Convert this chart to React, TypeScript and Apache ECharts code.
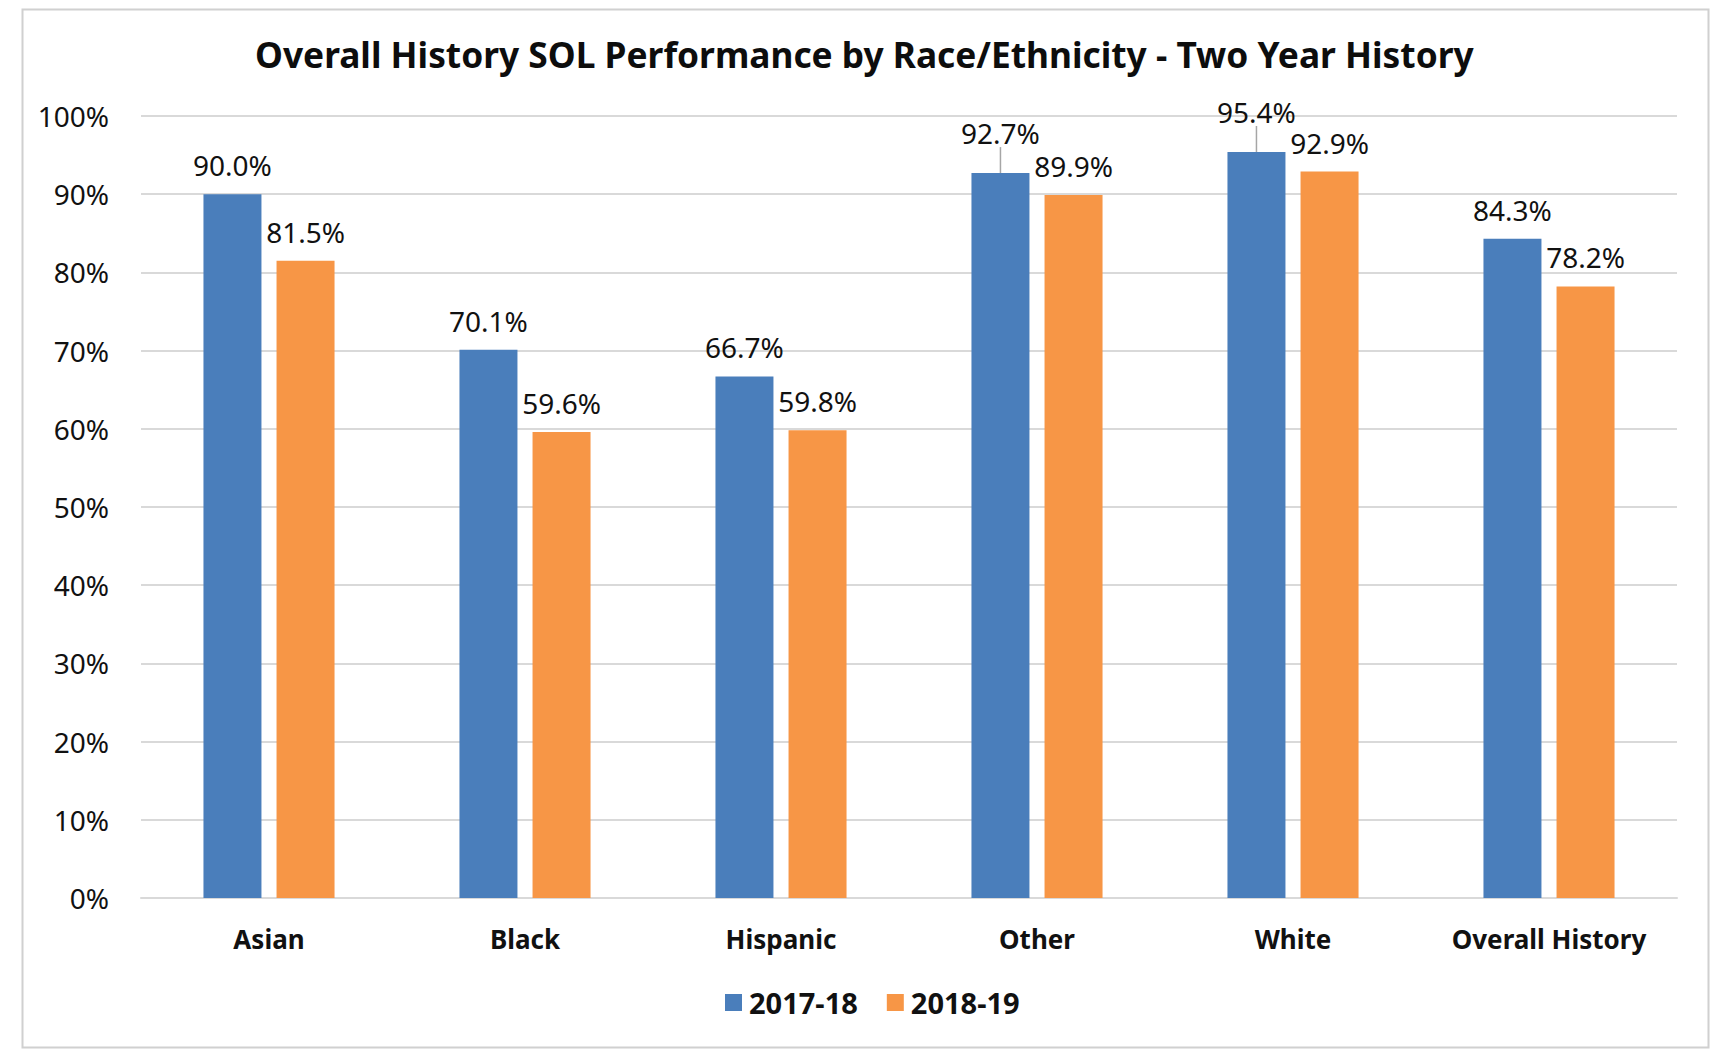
import React, { useEffect, useRef } from "react";
import * as echarts from "echarts";

const categories = ["Asian", "Black", "Hispanic", "Other", "White", "Overall History"];
const series2017 = [90.0, 70.1, 66.7, 92.7, 95.4, 84.3];
const series2018 = [81.5, 59.6, 59.8, 89.9, 92.9, 78.2];
const seriesNames = ["2017-18", "2018-19"];
const yTicks = { min: 0, max: 100, interval: 10 };
// labels nudged upward with a leader line (index into categories, 2017-18 series)
const liftedLabels = [3, 4];

const FONT = "Noto Sans";

export default function App() {
  const ref = useRef<HTMLDivElement>(null);

  useEffect(() => {
    document.body.style.margin = "0";
    const chart = echarts.init(ref.current!, null, { renderer: "svg" });
    const labelStyle = {
      show: true,
      position: "top" as const,
      distance: 15,
      fontFamily: FONT,
      fontSize: 28,
      color: "#111111",
      formatter: (p: any) => `${Number(p.value).toFixed(1)}%`,
    };
    const data2017 = series2017.map((v, i) =>
      liftedLabels.includes(i)
        ? { value: v, labelLine: { show: true, lineStyle: { color: "#a6a6a6", width: 1.5 } } }
        : { value: v, labelLine: { show: false } }
    );
    chart.setOption({
      animation: false,
      backgroundColor: "#ffffff",
      textStyle: { fontFamily: FONT },
      title: {
        text: "Overall History SOL Performance by Race/Ethnicity - Two Year History",
        left: 250,
        top: 31,
        textStyle: { fontFamily: FONT, fontSize: 35.3, fontWeight: "bold", color: "#0d0d0d" },
      },
      graphic: [
        {
          type: "rect",
          left: 20,
          top: 7,
          shape: { width: 1686, height: 1038 },
          style: { fill: "none", stroke: "#d0d0d0", lineWidth: 2 },
          silent: true,
        },
      ],
      legend: {
        bottom: 29,
        left: 720,
        itemWidth: 17,
        itemHeight: 17,
        itemGap: 29,
        icon: "rect",
        textStyle: { fontFamily: FONT, fontSize: 29, fontWeight: "bold", color: "#111111", padding: [0, 0, 0, 2] },
        data: seriesNames,
      },
      grid: { left: 141, right: 39, top: 116, bottom: 153, containLabel: false },
      xAxis: {
        type: "category",
        data: categories,
        axisLine: { show: true, lineStyle: { color: "#d9d9d9", width: 2 } },
        axisTick: { show: false },
        axisLabel: {
          interval: 0,
          fontFamily: FONT,
          fontSize: 26,
          fontWeight: "bold",
          color: "#111111",
          margin: 28,
          hideOverlap: false,
        },
      },
      yAxis: {
        type: "value",
        min: yTicks.min,
        max: yTicks.max,
        interval: yTicks.interval,
        axisLine: { show: false },
        axisTick: { show: false },
        splitLine: { lineStyle: { color: "#d9d9d9", width: 2 } },
        axisLabel: { fontFamily: FONT, fontSize: 28, color: "#111111", margin: 32, formatter: "{value}%" },
      },
      series: [
        {
          name: seriesNames[0],
          type: "bar",
          data: data2017,
          barWidth: 58,
          barGap: "26%",
          itemStyle: { color: "#4a7ebb" },
          label: labelStyle,
          labelLine: { show: false, lineStyle: { color: "#a6a6a6", width: 1.5 } },
          labelLayout: (p: any) => (liftedLabels.includes(p.dataIndex) ? { dy: -11 } : {}),
        },
        {
          name: seriesNames[1],
          type: "bar",
          data: series2018,
          barWidth: 58,
          itemStyle: { color: "#f79646" },
          label: labelStyle,
        },
      ],
    });
    return () => chart.dispose();
  }, []);

  return <div ref={ref} style={{ width: 1716, height: 1051 }} />;
}
